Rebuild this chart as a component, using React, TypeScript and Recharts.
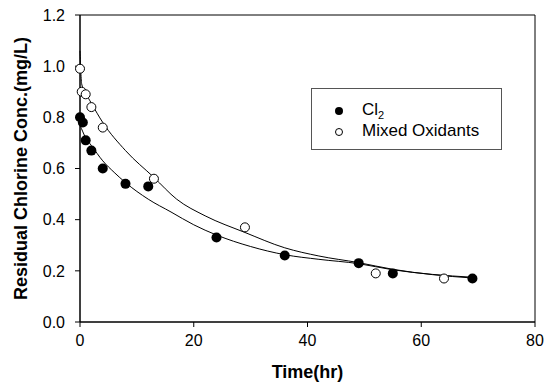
import {
  ComposedChart,
  Line,
  Scatter,
  XAxis,
  YAxis,
  ReferenceArea,
} from 'recharts';

// measured points
const cl2Time = [0, 0.5, 1, 2, 4, 8, 12, 24, 36, 49, 55, 69];
const cl2Conc = [0.80, 0.78, 0.71, 0.67, 0.60, 0.54, 0.53, 0.33, 0.26, 0.23, 0.19, 0.17];
const mixTime = [0, 0.3, 1, 2, 4, 13, 29, 52, 64];
const mixConc = [0.99, 0.90, 0.89, 0.84, 0.76, 0.56, 0.37, 0.19, 0.17];

// fitted curves
const cl2FitTime = [0, 1, 2, 4, 6, 8, 12, 16, 20, 24, 30, 36, 42, 49, 55, 62, 69];
const cl2FitConc = [0.77, 0.72, 0.69, 0.63, 0.585, 0.545, 0.48, 0.43, 0.38, 0.34, 0.295, 0.263, 0.245, 0.228, 0.204, 0.186, 0.175];
const mixFitTime = [0, 0.3, 1, 2, 4, 8, 13, 17, 22, 29, 36, 42, 49, 55, 62, 69];
const mixFitConc = [1.06, 0.93, 0.895, 0.855, 0.78, 0.67, 0.565, 0.48, 0.415, 0.35, 0.29, 0.258, 0.232, 0.206, 0.185, 0.172];

const xTicks = [0, 20, 40, 60, 80];
const yTicks = [0, 0.2, 0.4, 0.6, 0.8, 1.0, 1.2];

const zip = (xs: number[], ys: number[]) => xs.map((x, i) => ({ x, y: ys[i] }));

const cl2Points = zip(cl2Time, cl2Conc);
const mixPoints = zip(mixTime, mixConc);
const cl2Fit = zip(cl2FitTime, cl2FitConc);
const mixFit = zip(mixFitTime, mixFitConc);

const FONT = '"Liberation Sans", Arial, sans-serif';

const FilledDot = (props: any) => <circle cx={props.cx} cy={props.cy} r={5} fill="#000" />;
const OpenDot = (props: any) => (
  <circle cx={props.cx} cy={props.cy} r={4.5} fill="#fff" stroke="#000" strokeWidth={1} />
);

export default function App() {
  return (
    <div style={{ position: 'absolute', left: 0, top: 0, width: 554, height: 386, background: '#fff', fontFamily: FONT }}>
      <ComposedChart width={554} height={386} margin={{ top: 15, right: 19, left: 0, bottom: 0 }}>
        <XAxis
          dataKey="x"
          type="number"
          domain={[0, 80]}
          ticks={xTicks}
          height={64}
          tickSize={5}
          tickMargin={8}
          stroke="#000"
          tick={{ fill: '#000', fontSize: 16, fontFamily: FONT }}
          label={{ value: 'Time(hr)', position: 'insideBottom', offset: 8, style: { fill: '#000', fontSize: 18, fontWeight: 'bold', fontFamily: FONT } }}
        />
        <YAxis
          dataKey="y"
          type="number"
          domain={[0, 1.2]}
          ticks={yTicks}
          width={80}
          tickSize={5}
          tickMargin={10}
          stroke="#000"
          tickFormatter={(v: number) => v.toFixed(1)}
          tick={{ fill: '#000', fontSize: 16, fontFamily: FONT }}
          label={{ value: 'Residual Chlorine Conc.(mg/L)', angle: -90, position: 'insideLeft', offset: 21, style: { fill: '#000', fontSize: 18, fontWeight: 'bold', fontFamily: FONT, textAnchor: 'middle' } }}
        />
        <ReferenceArea x1={0} x2={80} y1={0} y2={1.2} fill="none" stroke="#000" strokeWidth={1} />
        <Line data={cl2Fit} dataKey="y" type="monotone" stroke="#000" strokeWidth={1} dot={false} isAnimationActive={false} />
        <Line data={mixFit} dataKey="y" type="monotone" stroke="#000" strokeWidth={1} dot={false} isAnimationActive={false} />
        <Scatter data={cl2Points} dataKey="y" shape={<FilledDot />} isAnimationActive={false} />
        <Scatter data={mixPoints} dataKey="y" shape={<OpenDot />} isAnimationActive={false} />
      </ComposedChart>
      <div
        style={{
          position: 'absolute',
          left: 311,
          top: 88,
          width: 189,
          height: 60,
          border: '1px solid #555',
          fontSize: 17,
          color: '#000',
        }}
      >
        <div style={{ position: 'absolute', left: 23, top: 18, width: 8, height: 8, borderRadius: 4, background: '#000' }} />
        <div style={{ position: 'absolute', left: 50, top: 11, lineHeight: '20px', whiteSpace: 'nowrap' }}>
          Cl<span style={{ fontSize: 11, position: 'relative', top: 4 }}>2</span>
        </div>
        <div style={{ position: 'absolute', left: 23, top: 39, width: 6, height: 6, borderRadius: 4, border: '1px solid #000', background: '#fff' }} />
        <div style={{ position: 'absolute', left: 50, top: 32, lineHeight: '20px', whiteSpace: 'nowrap' }}>Mixed Oxidants</div>
      </div>
    </div>
  );
}
